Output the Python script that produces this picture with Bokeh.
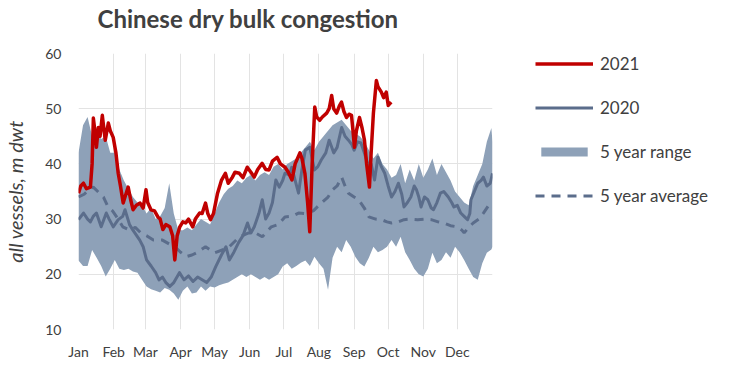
from bokeh.plotting import figure
from bokeh.layouts import row
from bokeh.models import Range1d, FixedTicker, Legend, LegendItem, Title
from bokeh.embed import file_html
from bokeh.resources import INLINE

# ---- data (day of year, value in m dwt) ----
month_ticks = [0, 31, 59, 90, 120, 151, 181, 212, 243, 273, 304, 334, 365]
month_labels = ["Jan", "Feb", "Mar", "Apr", "May", "Jun", "Jul", "Aug", "Sep", "Oct", "Nov", "Dec", ""]

days_2021 = [0, 2, 4.4, 7, 10.5, 12, 13.1, 15, 15.8, 17.5, 19, 21, 22, 23.6, 26.3, 28, 30.6, 33, 35, 37,
             39.4, 41, 43.8, 46, 48.1, 51, 54.3, 57, 59.5, 61, 63.9, 67, 70, 72, 74.4, 77, 80.5, 83, 84.9,
             87, 89.3, 92, 94.5, 97, 100.7, 103, 106.8, 109, 112, 114, 116.4, 119, 122.6, 126, 129.5, 132,
             135.7, 138, 141.8, 145, 148.8, 152, 154.9, 158, 161.9, 165, 168, 171, 175.1, 178, 182.1, 185,
             188.2, 191, 195.2, 197, 199.6, 202, 203.9, 206, 208.3, 210, 212.7, 215, 218.8, 221, 223.2, 225,
             227.6, 230, 231.9, 234, 236.3, 238.5, 240.7, 242, 243.3, 245, 247.7, 250, 252.1, 254, 256.5,
             258, 260, 262.6, 264, 267, 269, 271.3, 273.1, 275.7]
vals_2021 = [34.7, 36, 36.5, 35.5, 35.8, 40, 48.3, 45, 43, 46.6, 45, 48.8, 47, 44.3, 47.4, 46, 44.8, 42, 38.3, 36,
             32.9, 34, 35.8, 33.5, 31.7, 32.5, 32.9, 32, 35.3, 33, 31.7, 31.5, 30.4, 30, 28.1, 29, 28.6, 27, 22.6,
             27, 28.6, 29.5, 29.3, 30, 28.6, 30, 31.1, 31, 32.9, 31, 29.9, 31, 34.7, 37, 38.3, 36.5,
             37.6, 38.5, 38.3, 37.5, 39.4, 38.5, 37.6, 39, 40.1, 39, 38.9, 40.5, 41.2, 40, 39.4, 38.5,
             37.1, 40, 42, 41, 38.3, 33, 27.7, 40, 50.3, 48.5, 47.9, 48.5, 49.2, 50, 52.4, 50,
             49.2, 50.5, 51.2, 49.5, 48.4, 49, 48.8, 46, 43, 46, 48.4, 46.5, 44.3, 40, 35.8,
             42, 49.2, 55.1, 54, 53, 52, 53, 50.6, 51.2]

days_2020 = [0, 4.4, 8, 10.5, 13, 15.8, 20, 24.5, 27, 30.6, 35, 39, 41, 45, 48, 54, 57, 60, 64, 68, 71, 74, 77,
             80.5, 84, 89, 93, 97, 101, 105, 109, 113, 117, 121, 126, 130, 133, 137, 141, 145, 149, 152, 155,
             159, 162, 165, 168, 171, 174, 177, 180, 182, 186, 188, 191, 194, 197, 200, 204, 208, 211, 214,
             218, 221, 225, 228, 232, 235, 238, 241, 243, 246, 249, 252, 256, 258, 261, 264, 267, 270, 273,
             276, 279, 282, 285, 287, 290, 293, 296, 298, 300, 302, 305, 308, 311, 313, 316, 319, 322, 326,
             329, 331, 334, 337, 340, 343, 345, 346, 349, 352, 355, 357, 360, 363, 365]
vals_2020 = [29.9, 31.1, 30, 29.5, 30.5, 31.1, 28.6, 31.1, 30, 28.6, 29.9, 30.5, 31.7, 29, 28, 26.2, 25, 22.6,
             21.5, 20.3, 19, 19.5, 18.5, 17.8, 18.5, 20.3, 19, 19.7, 18.7, 19.5, 19, 18.5, 19.5, 21.4, 23.5, 25,
             22.6, 24, 25.7, 27, 29.3, 27.5, 28.6, 31, 33.5, 30, 31.1, 33, 37.1, 35.8, 37, 38.3, 38, 39.4, 37,
             34.7, 39, 42.5, 43, 38.9, 39.5, 40.7, 42, 44.3, 42, 43, 46.6, 45, 44.3, 43.5, 42.5, 44, 43.8, 42,
             39.4, 40, 37.1, 41.2, 39.5, 38.3, 36, 34, 35, 36.5, 34.5, 32.2, 33, 34, 36, 35.3, 34, 32.2, 34,
             33.5, 32, 31.7, 33, 34.7, 35, 34, 33, 32.2, 32.5, 31.1, 30.5, 29.9, 31, 33.5, 35, 36.5, 37, 37.6,
             36, 36.5, 38.3]

days_avg = [0, 5, 10, 13, 17, 22, 26, 30, 35, 39, 45, 50, 55, 60, 66, 74, 80, 85, 90, 95, 100, 104, 112, 120,
            128, 133, 142, 150, 156, 162, 170, 176, 182, 188, 194, 200, 207, 214, 220, 224, 228, 232, 235, 238,
            243, 247, 252, 256, 262, 267, 272, 276, 282, 287, 293, 299, 305, 311, 317, 322, 328, 334, 338,
            340, 344, 348, 353, 357, 363]
vals_avg = [34, 34.5, 35.5, 35.8, 35, 34, 32.2, 31.5, 30, 28.6, 28, 28.5, 27.5, 27, 26.2, 26.2, 25.5, 25, 24,
            23.2, 23.5, 23.9, 25, 23.9, 24.5, 25, 26.8, 27.5, 27.5, 26.8, 28.6, 29, 30.4, 30.5, 31.1, 31, 31.5,
            32.9, 34, 35.3, 36, 37.6, 36, 34.7, 34, 33.5, 32, 30.4, 30, 29.9, 29.5, 29.3, 29.5, 29.9, 30, 29.9,
            30, 29.9, 29.5, 29.3, 28.8, 28.6, 28, 27.5, 28.5, 29.3, 30, 31.1, 32.9]

range_days = [0, 4, 8, 12, 16, 20, 24, 28, 32, 36, 40, 44, 48, 52, 56, 60, 64, 68, 72, 76, 80, 84, 88, 92, 96,
              100, 104, 108, 112, 116, 120, 124, 128, 132, 136, 140, 144, 148, 152, 156, 160, 164, 168, 172,
              176, 180, 184, 188, 192, 196, 200, 204, 208, 212, 216, 220, 224, 228, 232, 236, 240, 244, 248,
              252, 256, 260, 264, 268, 272, 276, 280, 284, 288, 292, 296, 300, 304, 308, 312, 316, 320, 324,
              328, 332, 336, 340, 344, 348, 352, 356, 360, 364, 365]
range_hi = [42, 47, 48.5, 45, 46, 44.5, 45, 42, 42, 39, 37, 35.5, 34, 33, 32.5, 31, 32, 30, 30.5, 32, 36.5, 31,
            28, 28, 28.5, 28, 29, 30, 29.5, 29, 31, 33, 34.5, 35.5, 36, 37, 36.5, 37.5, 38, 37, 38, 38.5, 38,
            39.5, 40, 39, 40, 40.5, 41, 42, 43, 44, 42.5, 44, 45, 46, 47, 47.5, 48, 47, 46, 45.5, 45, 44, 42.5,
            41, 42, 40, 39, 37.5, 38, 40, 36.5, 39, 37, 40, 37.5, 39, 41, 38, 40, 38.5, 37, 35, 34, 33, 32.5,
            36, 38, 40, 44, 46.5, 44]
range_lo = [22.5, 21.5, 21.5, 24.4, 23, 21.5, 19.6, 21, 22.6, 21, 20.8, 21, 20.5, 20.3, 19, 17.8, 17.3, 17,
            16.7, 17.5, 17.2, 16.5, 15.4, 17, 17.8, 16.5, 16.7, 17.8, 17, 17.8, 17.6, 18, 18.3, 18.5, 19, 19.5,
            20, 19.5, 20, 19.5, 19, 19.5, 19, 19.5, 20, 21.4, 22, 21, 21.5, 22.1, 22.5, 21.5, 23.2, 22, 21,
            17.2, 23, 25, 24, 26.2, 25, 23.2, 22, 21.4, 23, 25, 24, 24.4, 25, 26.2, 25, 26.8, 24, 22.6, 21, 20,
            19.6, 21, 23.9, 22, 22.6, 24, 23, 25, 24, 22.6, 21, 19.5, 19, 22, 23.9, 24.5, 25]

FONT = "Lato"
RED = "#c00000"
BLUE = "#5b6d8b"
FILL = "#8ea1b8"
TXT = "#404040"

p = figure(width=493, height=362, output_backend="svg", toolbar_location=None,
           x_range=Range1d(0, 365), y_range=Range1d(10, 60),
           min_border_left=75, min_border_right=1, min_border_top=53, min_border_bottom=32)
p.outline_line_color = None

p.varea(x=range_days, y1=range_lo, y2=range_hi, fill_color=FILL, fill_alpha=1.0)
p.line(days_avg, vals_avg, line_color=BLUE, line_width=3, line_dash="9 7")
p.line(days_2020, vals_2020, line_color=BLUE, line_width=3, line_join="round")
p.line(days_2021, vals_2021, line_color=RED, line_width=3.5, line_join="round")

# axes
p.xaxis.ticker = FixedTicker(ticks=month_ticks)
p.xaxis.major_label_overrides = {t: l for t, l in zip(month_ticks, month_labels)}
p.yaxis.ticker = FixedTicker(ticks=[10, 20, 30, 40, 50, 60])
for ax in (p.xaxis[0], p.yaxis[0]):
    ax.axis_line_color = None
    ax.major_tick_line_color = None
    ax.minor_tick_line_color = None
    ax.major_tick_out = 0
    ax.major_tick_in = 0
    ax.major_label_text_font = FONT
    ax.major_label_text_font_size = "14px"
    ax.major_label_text_color = TXT
p.xaxis.major_label_standoff = 13
p.yaxis.major_label_standoff = 17
p.yaxis.axis_label = "all vessels, m dwt"
p.yaxis.axis_label_text_font = FONT
p.yaxis.axis_label_text_font_size = "20px"
p.yaxis.axis_label_text_font_style = "italic"
p.yaxis.axis_label_text_color = TXT
p.yaxis.axis_label_standoff = 15

p.xgrid.grid_line_color = "#e3e3e3"
p.ygrid.grid_line_color = "#e3e3e3"

# title: an empty spacer line between frame and title lifts the title
p.add_layout(Title(text=" ", text_font=FONT, text_font_size="16px", standoff=0), "above")
p.add_layout(Title(text="Chinese dry bulk congestion", text_font=FONT, text_font_size="24px",
                   text_font_style="bold", text_color=TXT, align="left", offset=19,
                   vertical_align="bottom", standoff=0), "above")

# legend panel (separate figure so the legend is not clipped by the plot frame);
# its renderers use the same data, but lie outside this figure's ranges
lg = figure(width=243, height=362, output_backend="svg", toolbar_location=None,
            x_axis_type=None, y_axis_type=None, min_border=0,
            x_range=Range1d(-20, -10), y_range=Range1d(-20, -10))
lg.outline_line_color = None
lg.xgrid.visible = False
lg.ygrid.visible = False
k21 = lg.line(days_2021, vals_2021, line_color=RED, line_width=3.5)
k20 = lg.line(days_2020, vals_2020, line_color=BLUE, line_width=3)
krg = lg.varea(x=range_days, y1=range_lo, y2=range_hi, fill_color=FILL, fill_alpha=1.0)
kav = lg.line(days_avg, vals_avg, line_color=BLUE, line_width=3, line_dash="9 7")

legend = Legend(items=[LegendItem(label="2021", renderers=[k21]),
                       LegendItem(label="2020", renderers=[k20]),
                       LegendItem(label="5 year range", renderers=[krg]),
                       LegendItem(label="5 year average", renderers=[kav])],
                location=(42, 123), orientation="vertical",
                glyph_width=58, glyph_height=11, label_height=20, label_standoff=7,
                spacing=23, padding=0, margin=0,
                label_text_font=FONT, label_text_font_size="17px", label_text_color=TXT,
                border_line_color=None, background_fill_alpha=0)
lg.add_layout(legend, "center")

open("out.html", "w").write(file_html(row(p, lg), INLINE))
